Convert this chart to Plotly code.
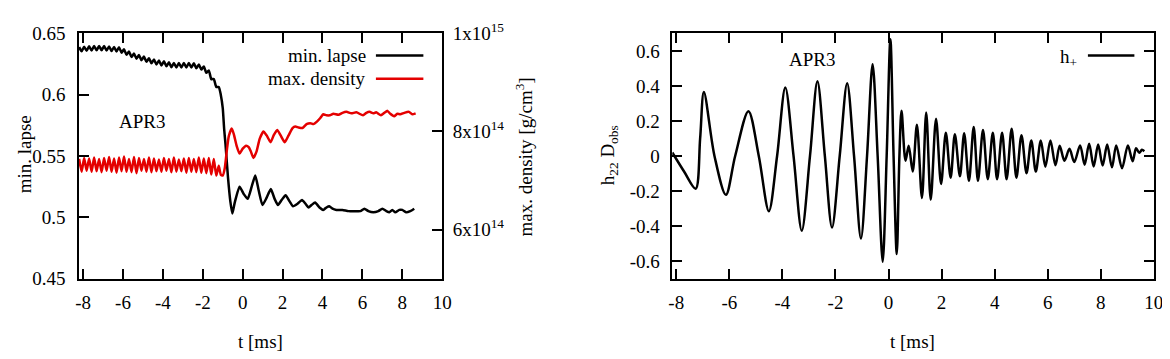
import plotly.graph_objects as go

# ===== Left panel: collapse diagnostics (APR3) =====
# inspiral part, sampled at the small oscillation extrema
t_pre = [-8.2, -8.075, -7.95, -7.825, -7.7, -7.575, -7.45, -7.325, -7.2, -7.075,
         -6.95, -6.825, -6.7, -6.575, -6.45, -6.325, -6.2, -6.075, -5.95, -5.825,
         -5.7, -5.575, -5.45, -5.325, -5.2, -5.075, -4.95, -4.825, -4.7, -4.575,
         -4.45, -4.325, -4.2, -4.075, -3.95, -3.825, -3.7, -3.575, -3.45, -3.325,
         -3.2, -3.075, -2.95, -2.825, -2.7, -2.575, -2.45, -2.325, -2.2, -2.075,
         -1.95, -1.825, -1.7, -1.575, -1.45, -1.325, -1.2]
lapse_pre = [0.6388, 0.6354, 0.6392, 0.6358, 0.6395, 0.6360, 0.6397, 0.6362, 0.6398, 0.6362,
             0.6398, 0.6360, 0.6394, 0.6356, 0.6390, 0.6352, 0.6388, 0.6343, 0.6370, 0.6325,
             0.6352, 0.6307, 0.6336, 0.6293, 0.6323, 0.6281, 0.6311, 0.6268, 0.6298, 0.6256,
             0.6287, 0.6247, 0.6279, 0.6239, 0.6272, 0.6232, 0.6264, 0.6224, 0.6258, 0.6222,
             0.6258, 0.6222, 0.6258, 0.6222, 0.6258, 0.6222, 0.6256, 0.6215, 0.6246, 0.6205,
             0.6231, 0.6179, 0.6198, 0.6127, 0.6128, 0.6062, 0.6063]
dens_pre = [7.44, 7.18, 7.46, 7.20, 7.45, 7.18, 7.47, 7.19, 7.44, 7.17,
            7.46, 7.20, 7.48, 7.18, 7.45, 7.16, 7.47, 7.19, 7.49, 7.18,
            7.44, 7.17, 7.48, 7.15, 7.46, 7.20, 7.44, 7.18, 7.47, 7.17,
            7.45, 7.19, 7.43, 7.18, 7.46, 7.20, 7.44, 7.17, 7.47, 7.18,
            7.43, 7.19, 7.45, 7.16, 7.46, 7.18, 7.44, 7.17, 7.47, 7.16,
            7.45, 7.15, 7.46, 7.12, 7.44, 7.10, 7.30]  # x1e14 g/cm^3

# merger and remnant
t_lapse_post = [-1.1, -1.0, -0.93, -0.86, -0.74, -0.62, -0.52, -0.4, -0.16, 0.05,
                0.25, 0.45, 0.63, 0.8, 0.99, 1.2, 1.41, 1.6, 1.77, 1.95,
                2.15, 2.35, 2.52, 2.75, 2.97, 3.15, 3.3, 3.45, 3.63, 3.85,
                4.04, 4.2, 4.34, 4.5, 4.7, 5.0, 5.3, 5.6, 5.9, 6.1,
                6.3, 6.55, 6.8, 7.0, 7.2, 7.35, 7.5, 7.65, 7.85, 8.0,
                8.2, 8.4, 8.6]
lapse_post = [0.600, 0.589, 0.572, 0.559, 0.533, 0.513, 0.503, 0.512, 0.525, 0.519,
              0.515, 0.525, 0.534, 0.522, 0.510, 0.516, 0.523, 0.515, 0.510, 0.514,
              0.518, 0.513, 0.509, 0.511, 0.514, 0.511, 0.508, 0.510, 0.512, 0.508,
              0.506, 0.508, 0.509, 0.507, 0.506, 0.506, 0.505, 0.505, 0.505, 0.507,
              0.505, 0.504, 0.505, 0.507, 0.505, 0.504, 0.506, 0.504, 0.506, 0.506,
              0.504, 0.505, 0.507]
t_dens_post = [-1.1, -1.0, -0.9, -0.8, -0.7, -0.55, -0.45, -0.3, -0.16, 0.0,
               0.17, 0.3, 0.4, 0.54, 0.7, 0.85, 1.04, 1.2, 1.4, 1.55,
               1.73, 1.9, 2.11, 2.3, 2.5, 2.64, 2.8, 3.0, 3.2, 3.39,
               3.55, 3.72, 3.9, 4.04, 4.2, 4.37, 4.55, 4.8, 5.0, 5.2,
               5.45, 5.7, 6.03, 6.2, 6.36, 6.55, 6.69, 6.93, 7.1, 7.26,
               7.4, 7.59, 7.75, 7.9, 8.1, 8.34, 8.5, 8.67]
dens_post = [7.12, 7.10, 7.25, 7.60, 7.90, 8.06, 7.95, 7.70, 7.55, 7.65,
             7.71, 7.68, 7.60, 7.46, 7.60, 7.85, 8.00, 7.92, 7.78, 7.92,
             8.03, 7.92, 7.78, 7.92, 8.07, 8.10, 8.08, 8.07, 8.15, 8.17,
             8.15, 8.20, 8.28, 8.35, 8.33, 8.33, 8.36, 8.34, 8.38, 8.40,
             8.37, 8.39, 8.33, 8.38, 8.40, 8.37, 8.39, 8.33, 8.38, 8.42,
             8.36, 8.31, 8.36, 8.35, 8.38, 8.40, 8.35, 8.37]  # x1e14 g/cm^3

# ===== Right panel: GW strain h+ =====
gw_t = [-8.15, -7.7, -7.27, -7.1, -6.96, -6.56, -6.13, -5.78, -5.28, -4.89,
        -4.51, -4.2, -3.89, -3.58, -3.27, -2.96, -2.68, -2.4, -2.13, -1.84,
        -1.56, -1.3, -1.04, -0.81, -0.6, -0.41, -0.22, -0.07, 0.07, 0.19,
        0.31, 0.41, 0.49, 0.64, 0.76, 0.91, 1.07, 1.26, 1.42, 1.59,
        1.79, 1.98, 2.16, 2.34, 2.5, 2.69, 2.85, 3.03, 3.21, 3.37,
        3.56, 3.74, 3.93, 4.09, 4.28, 4.45, 4.64, 4.82, 5.01, 5.2,
        5.38, 5.55, 5.74, 5.91, 6.1, 6.29, 6.45, 6.63, 6.82, 7.0,
        7.22, 7.39, 7.56, 7.73, 7.9, 8.07, 8.24, 8.42, 8.58, 8.8,
        9.02, 9.2, 9.33, 9.45, 9.55, 9.64]
gw_h = [0.02, -0.09, -0.187, 0.10, 0.366, 0.0, -0.222, 0.0, 0.256, 0.0,
        -0.315, 0.0, 0.391, 0.0, -0.427, 0.0, 0.427, 0.0, -0.409, 0.0,
        0.416, 0.0, -0.471, 0.0, 0.524, 0.0, -0.604, 0.0, 0.667, 0.0,
        -0.56, 0.0, 0.258, -0.027, 0.059, -0.089, 0.178, -0.24, 0.249, -0.249,
        0.213, -0.16, 0.133, -0.124, 0.124, -0.116, 0.13, -0.142, 0.165, -0.142,
        0.148, -0.133, 0.133, -0.133, 0.133, -0.133, 0.155, -0.124, 0.119, -0.098,
        0.089, -0.089, 0.089, -0.062, 0.089, -0.053, 0.059, -0.027, 0.041, -0.035,
        0.06, -0.05, 0.07, -0.06, 0.065, -0.055, 0.065, -0.065, 0.06, -0.07,
        0.06, -0.03, 0.044, 0.018, 0.035, 0.027]

t_ticks = [-8, -6, -4, -2, 0, 2, 4, 6, 8, 10]
lapse_ticks = [0.45, 0.5, 0.55, 0.6, 0.65]
dens_ticks = [6e14, 8e14, 1e15]
dens_ticktext = ["6x10<sup>14</sup>", "8x10<sup>14</sup>", "1x10<sup>15</sup>"]
h_ticks = [-0.6, -0.4, -0.2, 0, 0.2, 0.4, 0.6]

W, H = 1170, 359
FONT = "Liberation Serif, DejaVu Serif, serif"
FS = 19
RED = "rgb(228,0,0)"


def fx(p):
    return p / W


def fy(p):
    return 1 - p / H


lapse_t = t_pre + t_lapse_post
lapse_v = lapse_pre + lapse_post
dens_t = t_pre + t_dens_post
dens_v = [d * 1e14 for d in dens_pre + dens_post]

fig = go.Figure()
fig.add_trace(go.Scatter(x=lapse_t, y=lapse_v, mode="lines", xaxis="x", yaxis="y",
                         line=dict(color="black", width=2.5, shape="spline", smoothing=0.5)))
fig.add_trace(go.Scatter(x=dens_t, y=dens_v, mode="lines", xaxis="x", yaxis="y2",
                         line=dict(color=RED, width=2.5, shape="spline", smoothing=0.5)))
fig.add_trace(go.Scatter(x=gw_t, y=gw_h, mode="lines", xaxis="x2", yaxis="y3",
                         line=dict(color="black", width=2.5, shape="spline", smoothing=0.9)))

axis_style = dict(showline=True, linecolor="black", linewidth=1.5, ticks="inside",
                  ticklen=10, tickwidth=1.5, tickcolor="black", showgrid=False,
                  zeroline=False, tickfont=dict(family=FONT, size=FS, color="black"))

left_x = [fx(67.7), fx(435)]
right_x = [fx(667.7), fx(1154.7)]
ydom = [fy(276), fy(13.3)]

fig.update_layout(
    width=W, height=H, margin=dict(l=0, r=0, t=0, b=0),
    paper_bgcolor="white", plot_bgcolor="white", showlegend=False,
    font=dict(family=FONT, size=FS, color="black"),
    xaxis=dict(axis_style, domain=left_x, anchor="y", range=[-8.21, 10], mirror="ticks",
               tickvals=t_ticks, ticktext=[f"{v:g}" for v in t_ticks], ticklabelstandoff=6),
    yaxis=dict(axis_style, domain=ydom, anchor="x", range=[0.45, 0.65],
               tickvals=lapse_ticks, ticktext=[f"{v:g}" for v in lapse_ticks], ticklabelstandoff=8),
    yaxis2=dict(axis_style, overlaying="y", side="right", anchor="x", range=[5e14, 1e15],
                tickvals=dens_ticks, ticktext=dens_ticktext, ticklabelstandoff=5),
    xaxis2=dict(axis_style, domain=right_x, anchor="y3", range=[-8.15, 10], mirror="ticks",
                tickvals=t_ticks, ticktext=[f"{v:g}" for v in t_ticks], ticklabelstandoff=6),
    yaxis3=dict(axis_style, domain=ydom, anchor="x2", range=[-0.7, 0.7], mirror="ticks",
                tickvals=h_ticks, ticktext=[f"{v:g}" for v in h_ticks], ticklabelstandoff=7),
)

txt = dict(family=FONT, size=FS, color="black")
annotations = [
    dict(text="min. lapse", x=fx(13), y=fy(143), textangle=-90),
    dict(text="max. density [g/cm<sup>3</sup>]", x=fx(518), y=fy(146), textangle=-90),
    dict(text="h<sub>22</sub> D<sub>obs</sub>", x=fx(604.5), y=fy(144), textangle=-90),
    dict(text="t [ms]", x=fx(251), y=fy(343)),
    dict(text="t [ms]", x=fx(911), y=fy(343)),
    dict(text="APR3", x=fx(131), y=fy(108)),
    dict(text="APR3", x=fx(808.7), y=fy(41.7)),
    dict(text="min. lapse", x=fx(360), y=fy(37), xanchor="right"),
    dict(text="max. density", x=fx(360), y=fy(62), xanchor="right"),
    dict(text="h<sub>+</sub>", x=fx(1079), y=fy(40), xanchor="right"),
]
for a in annotations:
    a.setdefault("xanchor", "center")
    fig.add_annotation(xref="paper", yref="paper", yanchor="middle", showarrow=False,
                       font=txt, **a)

# legend samples (gnuplot style: text left, line right)
for y0, col in [(37, "black"), (62, RED)]:
    fig.add_shape(type="line", xref="paper", yref="paper", x0=fx(368), x1=fx(416),
                  y0=fy(y0), y1=fy(y0), line=dict(color=col, width=2.5))
fig.add_shape(type="line", xref="paper", yref="paper", x0=fx(1088), x1=fx(1135),
              y0=fy(37), y1=fy(37), line=dict(color="black", width=2.5))

fig.write_html("out.html")
